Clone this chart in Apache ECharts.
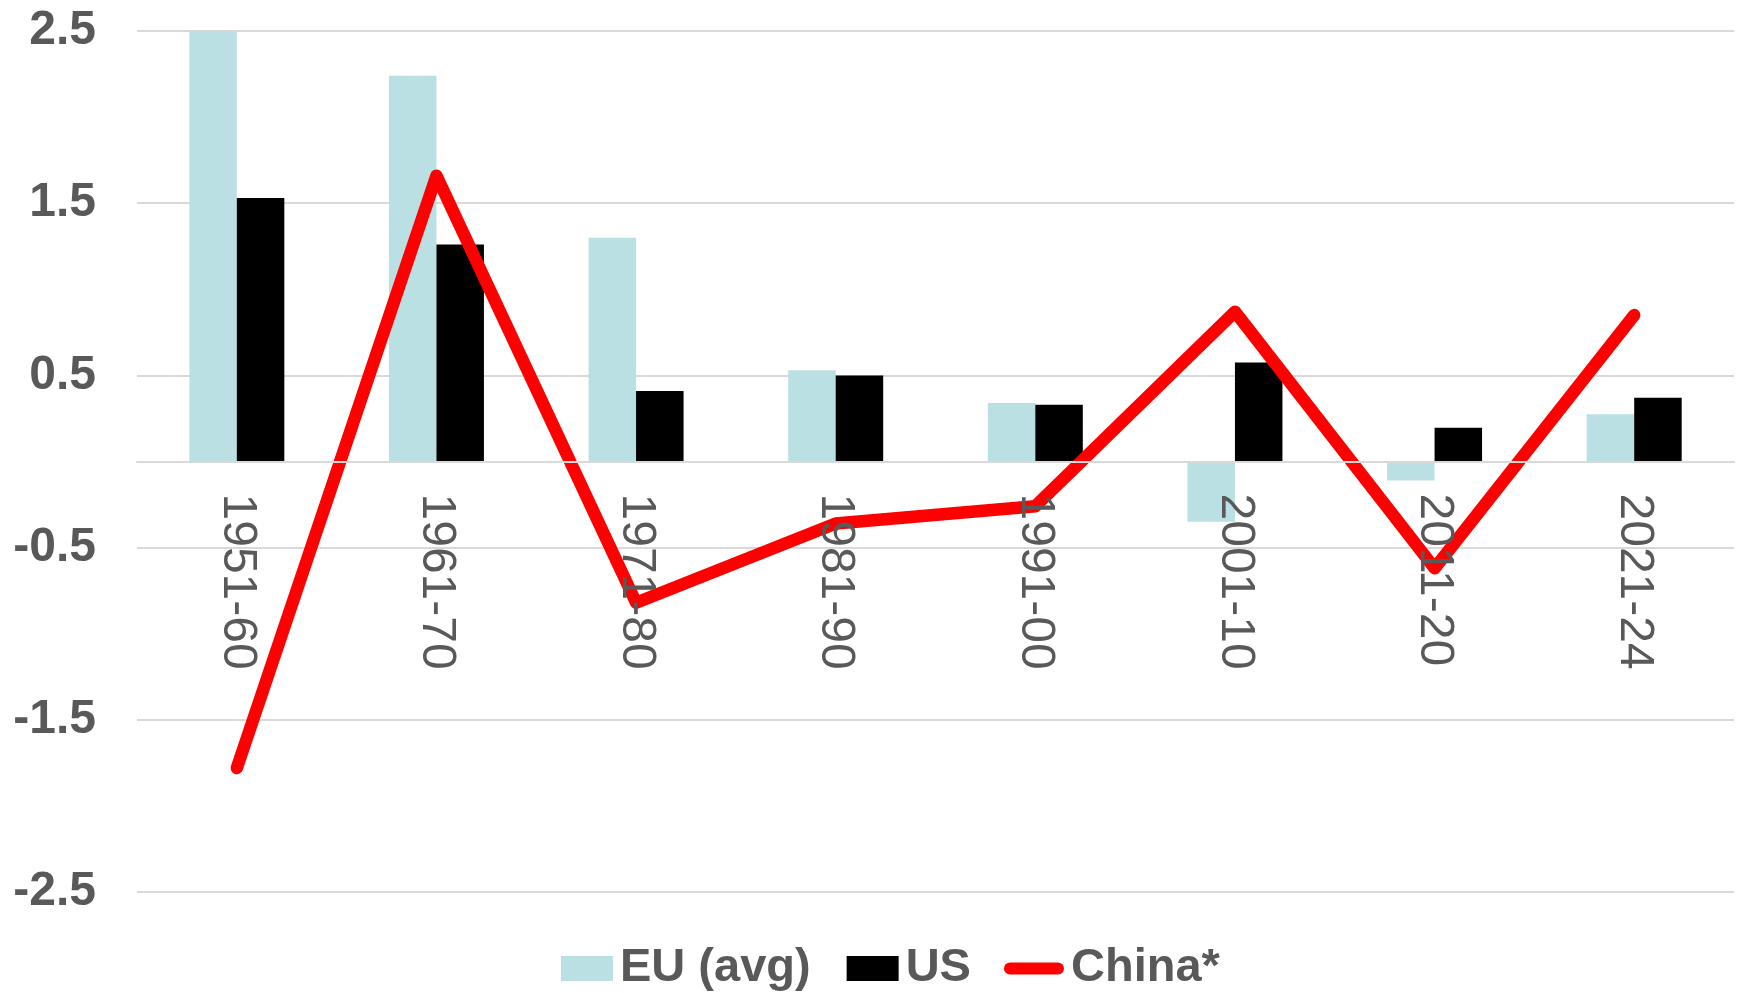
<!DOCTYPE html>
<html>
<head>
<meta charset="utf-8">
<title>EU, US and China by decade</title>
<script src="https://cdn.jsdelivr.net/npm/echarts@6/dist/echarts.min.js"></script>
<style>
  html, body { margin: 0; padding: 0; background: #ffffff; }
  #chart { width: 1741px; height: 993px; }
</style>
</head>
<body>
<div id="chart"></div>
<script>
// Decades on the category axis
const decades = ['1951-60', '1961-70', '1971-80', '1981-90', '1991-00', '2001-10', '2011-20', '2021-24'];

// Series values per decade
const euAvg = [2.5, 2.24, 1.30, 0.53, 0.34, -0.35, -0.11, 0.275];
const us = [1.53, 1.26, 0.41, 0.50, 0.33, 0.575, 0.196, 0.37];
const china = [-1.78, 1.66, -0.82, -0.36, -0.26, 0.87, -0.62, 0.85];

// Value axis range and step
const yMin = -2.5;
const yMax = 2.5;
const yStep = 1;

const grey = '#595959';
const gridGrey = '#d9d9d9';
const legendFont = {
  fontFamily: '"Liberation Sans", Arial, sans-serif',
  fontWeight: 'bold',
  fontSize: 47,
  color: grey,
  padding: [0, 0, 0, 2]
};

const chart = echarts.init(document.getElementById('chart'), null, { renderer: 'canvas' });

chart.setOption({
  animation: false,
  backgroundColor: '#ffffff',
  grid: { left: 137, right: 7, top: 31, bottom: 101, containLabel: false, outerBoundsMode: 'none' },
  legend: [
    {
      top: 940,
      left: 556,
      itemWidth: 52,
      itemHeight: 25,
      itemGap: 36,
      textStyle: legendFont,
      data: [
        { name: 'EU (avg)', icon: 'rect' },
        { name: 'US', icon: 'rect' }
      ]
    },
    {
      top: 940,
      left: 999,
      itemWidth: 60,
      itemHeight: 12.5,
      textStyle: legendFont,
      data: [
        { name: 'China*', icon: 'path://M6,0H54A6,6 0 0 1 54,12H6A6,6 0 0 1 6,0Z' }
      ]
    }
  ],
  xAxis: {
    type: 'category',
    data: decades,
    z: 5,
    position: 'bottom',
    axisLine: { onZero: false, lineStyle: { color: gridGrey, width: 2 } },
    axisTick: { show: false },
    axisLabel: {
      interval: 0,
      rotate: -90,
      margin: 32,
      fontFamily: '"Liberation Sans", Arial, sans-serif',
      fontSize: 48,
      color: grey
    },
    splitLine: { show: false }
  },
  yAxis: {
    type: 'value',
    min: yMin,
    max: yMax,
    interval: yStep,
    axisLine: { show: false },
    axisTick: { show: false },
    axisLabel: {
      margin: 41,
      fontFamily: '"Liberation Sans", Arial, sans-serif',
      fontWeight: 'bold',
      fontSize: 48,
      color: grey,
      formatter: v => v.toFixed(1)
    },
    splitLine: { lineStyle: { color: gridGrey, width: 2 } }
  },
  series: [
    {
      name: 'EU (avg)',
      type: 'bar',
      data: euAvg,
      barWidth: 47.5,
      barGap: '0%',
      itemStyle: { color: '#bbe0e3' }
    },
    {
      name: 'US',
      type: 'bar',
      data: us,
      barWidth: 47.5,
      barGap: '0%',
      itemStyle: { color: '#000000' }
    },
    {
      name: 'China*',
      type: 'line',
      data: china,
      symbol: 'none',
      z: 4,
      lineStyle: { color: '#ff0000', width: 12.5, cap: 'round', join: 'round' },
      itemStyle: { color: '#ff0000' }
    }
  ]
});

// Lift the category axis (line and labels) up to the zero value
const zeroY = chart.convertToPixel({ yAxisIndex: 0 }, 0);
const floorY = chart.convertToPixel({ yAxisIndex: 0 }, yMin);
chart.setOption({ xAxis: { offset: zeroY - floorY } });
</script>
</body>
</html>
